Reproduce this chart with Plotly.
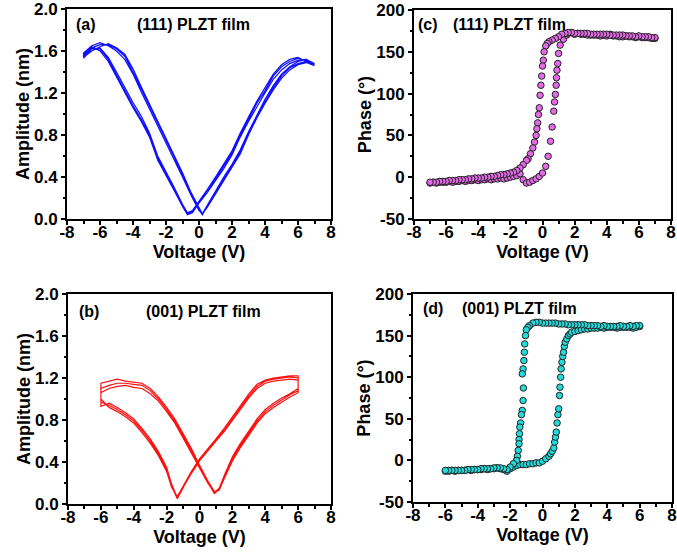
import plotly.graph_objects as go

# ---------------- (a) (111) PLZT film: PFM amplitude, three bias cycles ----------------
A_V_UP = [-7.0, -6.5, -6.0, -5.5, -5.0, -4.5, -4.0, -3.5, -3.0, -2.5, -2.0, -1.5, -1.0, -0.5, 0.0,
          0.2, 0.5, 1.0, 1.5, 2.0, 2.5, 3.0, 3.5, 4.0, 4.5, 5.0, 5.5, 6.0, 6.5, 7.0]
A_AMP_UP_1 = [1.56, 1.63, 1.66, 1.66, 1.62, 1.55, 1.40, 1.24, 1.07, 0.91, 0.75, 0.59, 0.42, 0.24, 0.09,
              0.04, 0.12, 0.26, 0.38, 0.50, 0.64, 0.82, 0.98, 1.12, 1.25, 1.36, 1.44, 1.48, 1.50, 1.47]
A_AMP_UP_2 = [1.58, 1.65, 1.68, 1.65, 1.60, 1.52, 1.38, 1.21, 1.05, 0.89, 0.73, 0.57, 0.40, 0.23, 0.08,
              0.05, 0.13, 0.27, 0.40, 0.52, 0.66, 0.83, 0.99, 1.14, 1.27, 1.38, 1.45, 1.50, 1.52, 1.48]
A_AMP_UP_3 = [1.54, 1.60, 1.64, 1.67, 1.63, 1.57, 1.43, 1.26, 1.09, 0.93, 0.77, 0.61, 0.44, 0.26, 0.10,
              0.05, 0.11, 0.24, 0.37, 0.49, 0.62, 0.80, 0.96, 1.10, 1.23, 1.34, 1.42, 1.47, 1.49, 1.46]
A_V_DOWN = [7.0, 6.5, 6.0, 5.5, 5.0, 4.5, 4.0, 3.5, 3.0, 2.5, 2.0, 1.5, 1.0, 0.5, 0.0,
            -0.4, -0.7, -1.0, -1.5, -2.0, -2.5, -3.0, -3.5, -4.0, -4.5, -5.0, -5.5, -6.0, -6.5, -7.0]
A_AMP_DOWN_1 = [1.47, 1.51, 1.53, 1.50, 1.45, 1.36, 1.22, 1.10, 0.95, 0.80, 0.63, 0.50, 0.38, 0.27, 0.16,
                0.07, 0.05, 0.13, 0.28, 0.43, 0.58, 0.80, 0.95, 1.08, 1.23, 1.38, 1.52, 1.62, 1.63, 1.55]
A_AMP_DOWN_2 = [1.48, 1.52, 1.51, 1.48, 1.42, 1.33, 1.20, 1.07, 0.93, 0.78, 0.61, 0.48, 0.36, 0.25, 0.15,
                0.06, 0.04, 0.12, 0.27, 0.41, 0.56, 0.78, 0.93, 1.06, 1.21, 1.36, 1.50, 1.60, 1.64, 1.57]
A_AMP_DOWN_3 = [1.46, 1.50, 1.54, 1.52, 1.47, 1.38, 1.25, 1.12, 0.97, 0.82, 0.65, 0.52, 0.40, 0.28, 0.17,
                0.08, 0.06, 0.14, 0.30, 0.45, 0.60, 0.82, 0.98, 1.11, 1.26, 1.40, 1.54, 1.63, 1.62, 1.53]

# ---------------- (b) (001) PLZT film: PFM amplitude, three bias cycles ----------------
B_V_UP = [-6.0, -5.5, -5.0, -4.5, -4.0, -3.5, -3.0, -2.5, -2.0, -1.5, -1.0, -0.5, 0.0, 0.5, 0.9,
          1.2, 1.5, 2.0, 2.5, 3.0, 3.5, 4.0, 4.5, 5.0, 5.5, 6.0]
B_AMP_UP_1 = [1.10, 1.13, 1.15, 1.15, 1.14, 1.13, 1.08, 1.00, 0.90, 0.79, 0.65, 0.51, 0.35, 0.21, 0.10,
              0.14, 0.25, 0.43, 0.56, 0.68, 0.79, 0.88, 0.94, 0.99, 1.04, 1.08]
B_AMP_UP_2 = [1.06, 1.10, 1.12, 1.13, 1.11, 1.10, 1.05, 0.98, 0.88, 0.77, 0.63, 0.49, 0.34, 0.20, 0.11,
              0.15, 0.27, 0.45, 0.58, 0.70, 0.81, 0.90, 0.96, 1.01, 1.05, 1.10]
B_AMP_UP_3 = [1.15, 1.17, 1.19, 1.17, 1.16, 1.15, 1.10, 1.02, 0.92, 0.81, 0.67, 0.53, 0.37, 0.22, 0.12,
              0.13, 0.24, 0.41, 0.54, 0.66, 0.77, 0.86, 0.92, 0.97, 1.02, 1.06]
B_V_DOWN = [6.0, 5.5, 5.0, 4.5, 4.0, 3.5, 3.0, 2.5, 2.0, 1.5, 1.0, 0.5, 0.0, -0.5, -1.0,
            -1.35, -1.7, -2.0, -2.5, -3.0, -3.5, -4.0, -4.5, -5.0, -5.5, -6.0]
B_AMP_DOWN_1 = [1.20, 1.21, 1.20, 1.19, 1.17, 1.12, 1.03, 0.92, 0.80, 0.70, 0.61, 0.52, 0.42, 0.30, 0.16,
                0.05, 0.17, 0.33, 0.48, 0.60, 0.70, 0.79, 0.85, 0.90, 0.94, 0.97]
B_AMP_DOWN_2 = [1.18, 1.19, 1.18, 1.17, 1.15, 1.10, 1.01, 0.90, 0.79, 0.69, 0.60, 0.51, 0.41, 0.29, 0.15,
                0.06, 0.19, 0.35, 0.50, 0.62, 0.72, 0.81, 0.87, 0.92, 0.96, 0.93]
B_AMP_DOWN_3 = [1.22, 1.22, 1.21, 1.20, 1.18, 1.14, 1.05, 0.94, 0.82, 0.72, 0.62, 0.53, 0.43, 0.31, 0.17,
                0.07, 0.16, 0.31, 0.46, 0.58, 0.68, 0.77, 0.83, 0.88, 0.92, 1.00]

# ---------------- (c) (111) PLZT film: PFM phase ----------------
C_V_UP = [-7.0, -6.8, -6.6, -6.4, -6.2, -6.0, -5.8, -5.6, -5.4, -5.2, -5.0, -4.8, -4.6, -4.4, -4.2,
          -4.0, -3.8, -3.6, -3.4, -3.2, -3.0, -2.8, -2.6, -2.4, -2.2, -2.0, -1.8, -1.6, -1.4, -1.2,
          -1.0, -0.8, -0.6, -0.4, -0.2, 0.0, 0.2, 0.35, 0.5, 0.6, 0.7, 0.75, 0.8, 0.85, 0.87,
          0.9, 0.95, 1.0, 1.1, 1.3, 1.5, 1.6, 1.8, 2.0, 2.2, 2.4, 2.6, 2.8, 3.0, 3.2,
          3.4, 3.6, 3.8, 4.0, 4.2, 4.4, 4.6, 4.8, 5.0, 5.2, 5.4, 5.6, 5.8, 6.0, 6.2,
          6.4, 6.6, 6.8, 7.0]
C_PH_UP = [-7, -6, -7, -6, -6, -6, -5, -6, -5, -5, -4, -5, -4, -4, -3,
           -4, -3, -3, -2, -3, -2, -2, -1, -2, -1, 0, 1, 2, 4, -3,
           -7, -6, -4, -2, 1, 5, 13, 25, 43, 60, 79, 90, 99, 110, 119,
           128, 136, 148, 158, 165, 170, 172, 173, 171, 172, 171, 171, 170, 170, 170,
           170, 169, 170, 169, 171, 169, 169, 168, 168, 169, 168, 168, 167, 168, 167,
           167, 167, 166, 166]
C_V_DOWN = [7.0, 6.8, 6.6, 6.4, 6.2, 6.0, 5.8, 5.6, 5.4, 5.2, 5.0, 4.8, 4.6, 4.4, 4.2,
            4.0, 3.8, 3.6, 3.4, 3.2, 3.0, 2.8, 2.6, 2.4, 2.2, 2.0, 1.8, 1.6, 1.4, 1.2,
            1.0, 0.8, 0.6, 0.4, 0.3, 0.2, 0.1, 0.05, 0.0, -0.05, -0.1, -0.15, -0.2, -0.25, -0.3,
            -0.35, -0.4, -0.5, -0.6, -0.75, -0.9, -1.0, -1.2, -1.4, -1.6, -1.8, -2.0, -2.2, -2.4, -2.6,
            -2.8, -3.0, -3.2, -3.4, -3.6, -3.8, -4.0, -4.2, -4.4, -4.6, -4.8, -5.0, -5.2, -5.4, -5.6,
            -5.8, -6.0, -6.2, -6.4, -6.6, -6.8, -7.0]
C_PH_DOWN = [167, 167, 168, 168, 168, 169, 168, 169, 169, 169, 170, 170, 170, 170, 170,
             171, 171, 171, 171, 171, 171, 172, 172, 172, 172, 172, 173, 173, 172, 171,
             168, 166, 164, 162, 160, 157, 150, 140, 133, 121, 110, 98, 83, 75, 65,
             58, 50, 42, 35, 28, 22, 20, 15, 11, 8, 6, 5, 4, 3, 3,
             2, 1, 1, 0, 0, -1, -1, -1, -2, -2, -3, -3, -3, -4, -4,
             -4, -5, -5, -5, -6, -6, -6]

# ---------------- (d) (001) PLZT film: PFM phase ----------------
D_V_UP = [-6.0, -5.8, -5.6, -5.4, -5.2, -5.0, -4.8, -4.6, -4.4, -4.2, -4.0, -3.8, -3.6, -3.4, -3.2,
          -3.0, -2.8, -2.6, -2.4, -2.2, -2.0, -1.8, -1.6, -1.4, -1.2, -1.0, -0.8, -0.6, -0.4, -0.2,
          0.0, 0.2, 0.4, 0.5, 0.6, 0.7, 0.75, 0.8, 0.85, 0.9, 0.95, 1.0, 1.05, 1.08, 1.12,
          1.15, 1.2, 1.25, 1.3, 1.35, 1.4, 1.5, 1.6, 1.7, 1.8, 2.0, 2.2, 2.4, 2.6, 2.8,
          3.0, 3.2, 3.4, 3.6, 3.8, 4.0, 4.2, 4.4, 4.6, 4.8, 5.0, 5.2, 5.4, 5.6, 5.8,
          6.0]
D_PH_UP = [-13, -13, -12, -13, -12, -12, -12, -11, -12, -11, -11, -11, -10, -11, -10,
           -10, -9, -10, -11, -13, -10, -8, -6, -5, -5, -5, -4, -4, -3, -3,
           -1, 2, 5, 8, 11, 15, 22, 28, 34, 45, 55, 62, 78, 88, 100,
           110, 118, 125, 130, 137, 142, 146, 150, 152, 154, 155, 156, 157, 158, 158,
           159, 159, 159, 160, 159, 160, 160, 160, 159, 160, 160, 160, 160, 159, 160,
           161]
D_V_DOWN = [6.0, 5.8, 5.6, 5.4, 5.2, 5.0, 4.8, 4.6, 4.4, 4.2, 4.0, 3.8, 3.6, 3.4, 3.2,
            3.0, 2.8, 2.6, 2.4, 2.2, 2.0, 1.8, 1.6, 1.4, 1.2, 1.0, 0.8, 0.6, 0.4, 0.2,
            0.0, -0.2, -0.4, -0.6, -0.8, -0.9, -1.0, -1.05, -1.1, -1.12, -1.15, -1.2, -1.25, -1.18, -1.2,
            -1.25, -1.3, -1.35, -1.4, -1.42, -1.45, -1.45, -1.5, -1.55, -1.6, -1.8, -2.0, -2.2, -2.4, -2.6,
            -2.8, -3.0, -3.2, -3.4, -3.6, -3.8, -4.0, -4.2, -4.4, -4.6, -4.8, -5.0, -5.2, -5.4, -5.6,
            -5.8, -6.0]
D_PH_DOWN = [162, 162, 161, 162, 161, 161, 162, 161, 161, 161, 161, 162, 161, 162, 162,
             162, 162, 163, 163, 163, 163, 163, 163, 164, 164, 164, 165, 165, 165, 165,
             165, 166, 166, 165, 162, 160, 157, 150, 140, 130, 120, 110, 104, 87, 72,
             60, 55, 45, 40, 32, 25, 20, 12, 5, 0, -4, -8, -11, -10, -9,
             -9, -9, -10, -10, -10, -10, -11, -11, -11, -11, -12, -12, -12, -12, -12,
             -12, -12]

# ---------------- tick labels ----------------
V_TICKS = [-8, -6, -4, -2, 0, 2, 4, 6, 8]
V_TICK_TEXT = ["-8", "-6", "-4", "-2", "0", "2", "4", "6", "8"]
AMP_TICKS = [0.0, 0.4, 0.8, 1.2, 1.6, 2.0]
AMP_TICK_TEXT = ["0.0", "0.4", "0.8", "1.2", "1.6", "2.0"]
PH_TICKS = [-50, 0, 50, 100, 150, 200]
PH_TICK_TEXT = ["-50", "0", "50", "100", "150", "200"]

for xs, ys in [(A_V_UP, A_AMP_UP_1), (A_V_UP, A_AMP_UP_2), (A_V_UP, A_AMP_UP_3),
               (A_V_DOWN, A_AMP_DOWN_1), (A_V_DOWN, A_AMP_DOWN_2), (A_V_DOWN, A_AMP_DOWN_3),
               (B_V_UP, B_AMP_UP_1), (B_V_UP, B_AMP_UP_2), (B_V_UP, B_AMP_UP_3),
               (B_V_DOWN, B_AMP_DOWN_1), (B_V_DOWN, B_AMP_DOWN_2), (B_V_DOWN, B_AMP_DOWN_3),
               (C_V_UP, C_PH_UP), (C_V_DOWN, C_PH_DOWN), (D_V_UP, D_PH_UP), (D_V_DOWN, D_PH_DOWN)]:
    assert len(xs) == len(ys), (len(xs), len(ys))


def loop(v_up, v_down, ups, downs):
    """Chain the up/down sweeps of successive cycles into one continuous trace."""
    xs, ys = [], []
    for up, down in zip(ups, downs):
        xs += v_up + v_down
        ys += up + down
    return xs, ys


FONT = "Arial, Liberation Sans, Helvetica, sans-serif"
W, H = 677, 554

fig = go.Figure()

ax_, ay_ = loop(A_V_UP, A_V_DOWN, [A_AMP_UP_1, A_AMP_UP_2, A_AMP_UP_3],
                [A_AMP_DOWN_1, A_AMP_DOWN_2, A_AMP_DOWN_3])
fig.add_trace(go.Scatter(x=ax_, y=ay_, mode="lines", line=dict(color="#1010ff", width=1.2),
                         xaxis="x", yaxis="y", showlegend=False))

bx_, by_ = loop(B_V_UP, B_V_DOWN, [B_AMP_UP_1, B_AMP_UP_2, B_AMP_UP_3],
                [B_AMP_DOWN_1, B_AMP_DOWN_2, B_AMP_DOWN_3])
fig.add_trace(go.Scatter(x=bx_, y=by_, mode="lines", line=dict(color="#ff1010", width=1.2),
                         xaxis="x3", yaxis="y3", showlegend=False))

fig.add_trace(go.Scatter(x=C_V_UP + C_V_DOWN, y=C_PH_UP + C_PH_DOWN, mode="markers",
                         marker=dict(size=6.5, color="#e46ae8", line=dict(color="#222222", width=1)),
                         xaxis="x2", yaxis="y2", showlegend=False))

fig.add_trace(go.Scatter(x=D_V_UP + D_V_DOWN, y=D_PH_UP + D_PH_DOWN, mode="markers",
                         marker=dict(size=6.5, color="#22dcdc", line=dict(color="#222222", width=1)),
                         xaxis="x4", yaxis="y4", showlegend=False))


def px_x(a, b):
    return [a / W, b / W]


def px_y(top, bottom):
    return [1 - bottom / H, 1 - top / H]


tickfont = dict(family=FONT, size=17, color="black", weight="bold")
titlefont = dict(family=FONT, size=18, color="black", weight="bold")


def xaxis(domain, anchor):
    return dict(domain=domain, anchor=anchor, range=[-8, 8], automargin=False,
                tickmode="array", tickvals=V_TICKS, ticktext=V_TICK_TEXT,
                ticks="outside", ticklen=4, tickwidth=1.5, tickcolor="black",
                ticklabelstandoff=-7, ticklabeloverflow="allow",
                minor=dict(ticks="outside", dtick=1, tick0=-8, ticklen=2.5, tickwidth=1.5, tickcolor="black"),
                showline=True, linewidth=2, linecolor="black", mirror=True,
                showgrid=False, zeroline=False, tickfont=tickfont,
                title=dict(text="Voltage (V)", font=titlefont, standoff=0))


def yaxis(domain, anchor, rng, vals, texts, title):
    return dict(domain=domain, anchor=anchor, range=rng, automargin=False,
                tickmode="array", tickvals=vals, ticktext=texts,
                ticks="outside", ticklen=4, tickwidth=1.5, tickcolor="black",
                ticklabelstandoff=0, ticklabeloverflow="allow",
                minor=dict(ticks="outside", dtick=(vals[1] - vals[0]) / 2, tick0=rng[0], ticklen=2.5,
                           tickwidth=1.5, tickcolor="black"),
                showline=True, linewidth=2, linecolor="black", mirror=True,
                showgrid=False, zeroline=False, tickfont=tickfont,
                title=dict(text=title, font=titlefont, standoff=0))


fig.update_layout(
    width=W, height=H, margin=dict(l=0, r=0, t=0, b=0, autoexpand=False),
    paper_bgcolor="white", plot_bgcolor="white",
    xaxis=xaxis(px_x(67, 331), "y"),
    yaxis=yaxis(px_y(9, 219), "x", [0, 2.0], AMP_TICKS, AMP_TICK_TEXT, "Amplitude (nm)"),
    xaxis2=xaxis(px_x(414, 671), "y2"),
    yaxis2=yaxis(px_y(10, 219), "x2", [-50, 200], PH_TICKS, PH_TICK_TEXT, "Phase (°)"),
    xaxis3=xaxis(px_x(68, 331), "y3"),
    yaxis3=yaxis(px_y(294, 504), "x3", [0, 2.0], AMP_TICKS, AMP_TICK_TEXT, "Amplitude (nm)"),
    xaxis4=xaxis(px_x(413, 672), "y4"),
    yaxis4=yaxis(px_y(294, 502), "x4", [-50, 200], PH_TICKS, PH_TICK_TEXT, "Phase (°)"),
)

labels = [
    ("(a)", 86, 25), ("(111) PLZT film", 193, 25),
    ("(c)", 428, 25), ("(111) PLZT film", 510, 25),
    ("(b)", 89, 311), ("(001) PLZT film", 203, 311),
    ("(d)", 433, 308), ("(001) PLZT film", 519, 308),
]
for text, x, y in labels:
    fig.add_annotation(text=text, x=x / W, y=1 - y / H, xref="paper", yref="paper",
                       xanchor="center", yanchor="middle", showarrow=False,
                       font=dict(family=FONT, size=16, color="black", weight="bold"))

fig.write_html("out.html")
